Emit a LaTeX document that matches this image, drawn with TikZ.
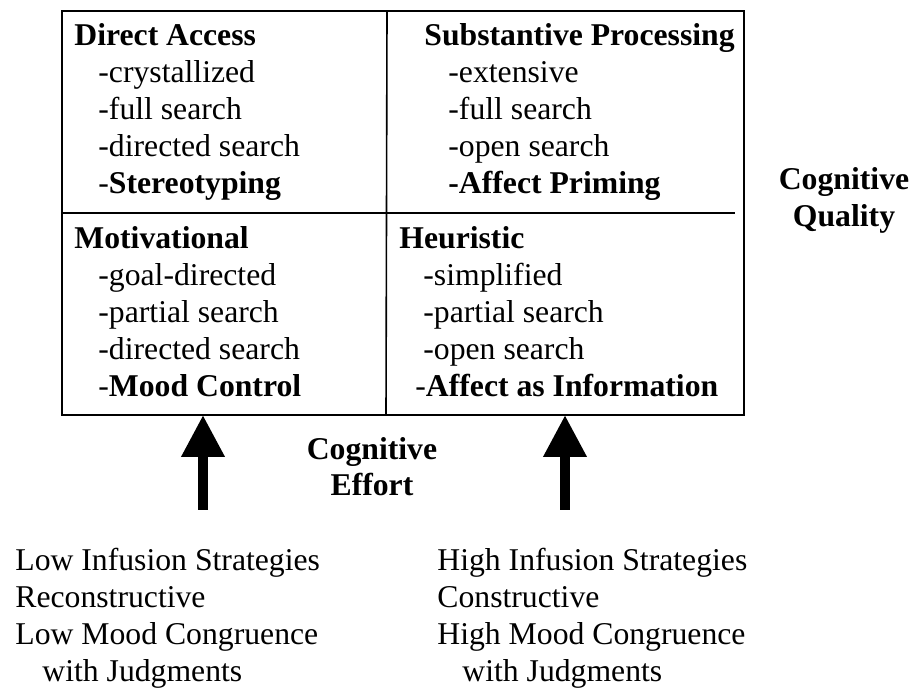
\documentclass[tikz,border=0pt]{standalone}
\usepackage{fontspec}
\setmainfont{Liberation Serif}
\usepackage{tikz}
\usetikzlibrary{arrows.meta}
\tikzstyle{entry}=[anchor=base west, inner sep=0pt, font=\fontsize{15.85}{18}\selectfont]
\tikzstyle{heading}=[entry, font=\fontsize{15.85}{18}\selectfont\bfseries]
\tikzstyle{axislabel}=[anchor=base, inner sep=0pt, font=\fontsize{15.85}{18}\selectfont\bfseries]
\tikzstyle{effort}=[line width=5pt, -{Triangle[width=20.5pt,length=21pt]}]
\newcommand{\entry}{\node[entry]}
\newcommand{\heading}{\node[heading]}

\begin{document}
\begin{tikzpicture}[x=0.5pt, y=-0.5pt]
\useasboundingbox (0,0) rectangle (914,688);
% frame and dividers
\draw[line width=1pt] (62,11) rectangle (744,415);
\draw[line width=0.8pt] (387,11) -- (386,415);
\draw[line width=0.8pt] (62,213) -- (735,213);
% upper left
\heading (direct) at (74,46) {Direct Access};
\entry (da1) at (98,83) {-crystallized};
\entry (da2) at (98,120) {-full search};
\entry (da3) at (98,157) {-directed search};
\entry (da4) at (98,194) {-\textbf{Stereotyping}};
% upper right
\heading (subst) at (424,46) {Substantive Processing};
\entry (sp1) at (448,83) {-extensive};
\entry (sp2) at (448,120) {-full search};
\entry (sp3) at (448,157) {-open search};
\heading (sp4) at (448,194) {-Affect Priming};
% lower left
\heading (motiv) at (74,249) {Motivational};
\entry (mo1) at (98,286) {-goal-directed};
\entry (mo2) at (98,323) {-partial search};
\entry (mo3) at (98,360) {-directed search};
\entry (mo4) at (98,397) {-\textbf{Mood Control}};
% lower right
\heading (heur) at (399,249) {Heuristic};
\entry (he1) at (423,286) {-simplified};
\entry (he2) at (423,323) {-partial search};
\entry (he3) at (423,360) {-open search};
\entry (he4) at (415,397) {-\textbf{Affect as Information}};
% axes
\node[axislabel] (quality1) at (844,190) {Cognitive};
\node[axislabel] (quality2) at (844,227) {Quality};
\node[axislabel] (effort1) at (372,460) {Cognitive};
\node[axislabel] (effort2) at (372,496) {Effort};
% strategies
\entry (low1) at (15,570) {Low Infusion Strategies};
\entry (low2) at (15,607) {Reconstructive};
\entry (low3) at (15,644) {Low Mood Congruence};
\entry (low4) at (42,681) {with Judgments};
\entry (high1) at (437,570) {High Infusion Strategies};
\entry (high2) at (437,607) {Constructive};
\entry (high3) at (437,644) {High Mood Congruence};
\entry (high4) at (462,681) {with Judgments};
% arrows
\coordinate (lowfoot) at (203,510);
\coordinate (lowtip) at (203,415);
\coordinate (highfoot) at (565,510);
\coordinate (hightip) at (565,415);
\draw[effort] (lowfoot) -- (lowtip);
\draw[effort] (highfoot) -- (hightip);
\end{tikzpicture}
\end{document}
